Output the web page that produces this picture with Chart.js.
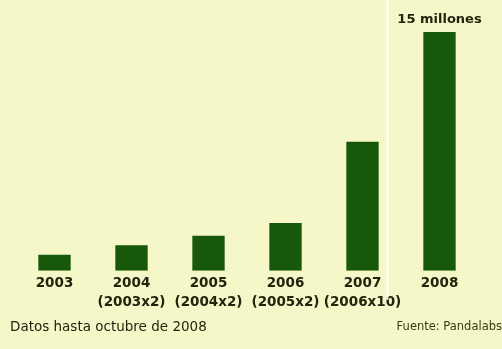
<!DOCTYPE html>
<html>
<head>
<meta charset="utf-8">
<script src="https://cdn.jsdelivr.net/npm/chart.js@4"></script>
<style>
  html, body { margin: 0; padding: 0; background: #f5f7c9; }
  #wrap { width: 502px; height: 349px; position: relative; }
</style>
</head>
<body>
<div id="wrap"><canvas id="chart"></canvas></div>
<script>
// data, millones de virus
const years = ['2003', '2004', '2005', '2006', '2007', '2008'];
const notes = ['', '(2003x2)', '(2004x2)', '(2005x2)', '(2006x10)', ''];
const values = [1.0, 1.6, 2.2, 3.0, 8.1, 15];
const topLabel = '15 millones';
const footLeft = 'Datos hasta octubre de 2008';
const footRight = 'Fuente: Pandalabs';

const ink = '#24240e';
const green = '#17580b';

let labels = years.map((y, i) => notes[i] ? [y, notes[i]] : [y]);

// texto encima de la ultima barra, separador blanco y pie
const extras = {
    id: 'extras',
    beforeDatasetsDraw(chart) {
        const ctx = chart.ctx;
        const x = chart.scales.x;
        const sep = x.getPixelForValue(4) + 25;
        ctx.save();
        ctx.strokeStyle = 'rgba(255,255,255,0.9)';
        ctx.lineWidth = 2;
        ctx.beginPath();
        ctx.moveTo(sep, 0);
        ctx.lineTo(sep, 300);
        ctx.stroke();
        ctx.restore();
    },
    afterDraw(chart) {
        const ctx = chart.ctx;
        const meta = chart.getDatasetMeta(0);
        const last = meta.data[meta.data.length - 1];
        ctx.save();
        ctx.fillStyle = ink;
        ctx.textAlign = 'center';
        ctx.textBaseline = 'bottom';
        ctx.font = 'bold 13px "DejaVu Sans"';
        ctx.fillText(topLabel, last.x, last.y - 6);

        ctx.textBaseline = 'middle';
        ctx.textAlign = 'left';
        ctx.font = '13.5px "DejaVu Sans"';
        ctx.fillText(footLeft, 10, 327);
        ctx.textAlign = 'right';
        ctx.fillStyle = '#3a3a14';
        ctx.font = '11.5px "DejaVu Sans"';
        ctx.fillText(footRight, 502, 327);
        ctx.restore();
    }
};

const ctx = document.getElementById('chart').getContext('2d');
new Chart(ctx, {
    type: 'bar',
    data: {
        labels: labels,
        datasets: [{
            data: values,
            backgroundColor: green,
            categoryPercentage: 1,
            barPercentage: 0.42
        }]
    },
    options: {
        responsive: true,
        maintainAspectRatio: false,
        animation: false,
        layout: { padding: { top: 32, left: 16, right: 24, bottom: 34 } },
        plugins: {
            legend: { display: false },
            tooltip: { enabled: false }
        },
        scales: {
            x: {
                grid: { display: false, drawTicks: false },
                border: { display: false },
                ticks: {
                    padding: 3,
                    color: ink,
                    font: { family: 'DejaVu Sans', size: 13.5, weight: 'bold', lineHeight: 1.42 },
                    maxRotation: 0,
                    autoSkip: false
                }
            },
            y: {
                display: false,
                min: 0,
                max: 15
            }
        }
    },
    plugins: [extras]
});
</script>
</body>
</html>
